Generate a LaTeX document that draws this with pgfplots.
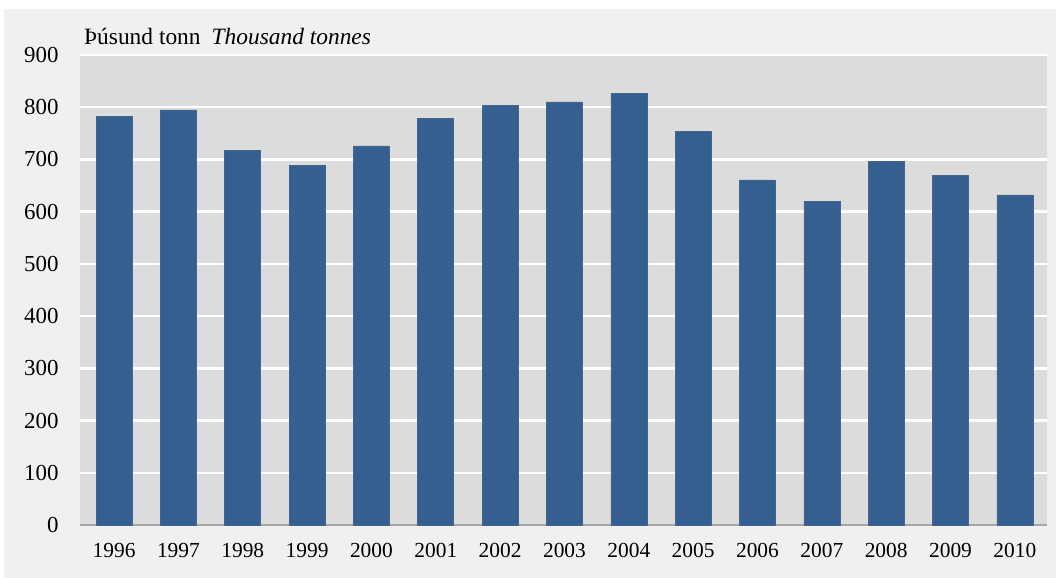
\documentclass[border=0pt]{standalone}
\usepackage{fontspec}
\setmainfont{Liberation Serif}
\usepackage{pgfplots}
\pgfplotsset{compat=1.18}
\definecolor{BarBlue}{HTML}{355E91}
\definecolor{PlotBg}{HTML}{DCDCDC}
\definecolor{OuterBg}{HTML}{F0F0F0}
\definecolor{AxisGray}{HTML}{A6A6A6}

\begin{document}
\begin{tikzpicture}[x=1bp,y=1bp]
% page and outer panel (axis sits at 0,0 with size 967 x 470)
\fill[white] (-80,-53) rectangle (976,525);
\fill[OuterBg] (-76,-53) rectangle (976,516);
\begin{axis}[
    name=main,
    at={(0,0)}, anchor=south west,
    scale only axis,
    width=967bp,
    height=470bp,
    ybar,
    bar width=36bp,
    xmin=-0.53, xmax=14.5,
    ymin=0, ymax=900,
    ytick={0,100,...,900},
    xtick=data,
    xticklabels={1996,1997,1998,1999,2000,2001,2002,2003,2004,2005,2006,2007,2008,2009,2010},
    xticklabel style={font=\rmfamily\fontsize{21.5}{24}\selectfont, yshift=-15bp},
    yticklabel style={font=\rmfamily\fontsize{23}{26}\selectfont, xshift=-18bp},
    /pgf/number format/assume math mode=true,
    /pgf/number format/1000 sep={},
    major tick length=0pt,
    ymajorgrids,
    major grid style={draw=white, line width=2.5bp},
    axis background/.style={fill=PlotBg},
    axis x line*=bottom,
    axis y line*=left,
    x axis line style={draw=AxisGray, line width=1.5bp, -},
    y axis line style={draw=none},
    clip=false,
]
\addplot[fill=BarBlue, draw=BarBlue!80!gray, line width=0.6bp] coordinates {
    (0,783) (1,795) (2,718) (3,689) (4,726) (5,779) (6,804) (7,810)
    (8,827) (9,754) (10,661) (11,620) (12,697) (13,670) (14,632)
};
\end{axis}
\node[anchor=base west, font=\rmfamily\fontsize{23.5}{26}\selectfont, inner sep=0pt]
    at (4,480) {Þúsund tonn\hspace{11bp}\textit{Thousand tonnes}};
\end{tikzpicture}
\end{document}
